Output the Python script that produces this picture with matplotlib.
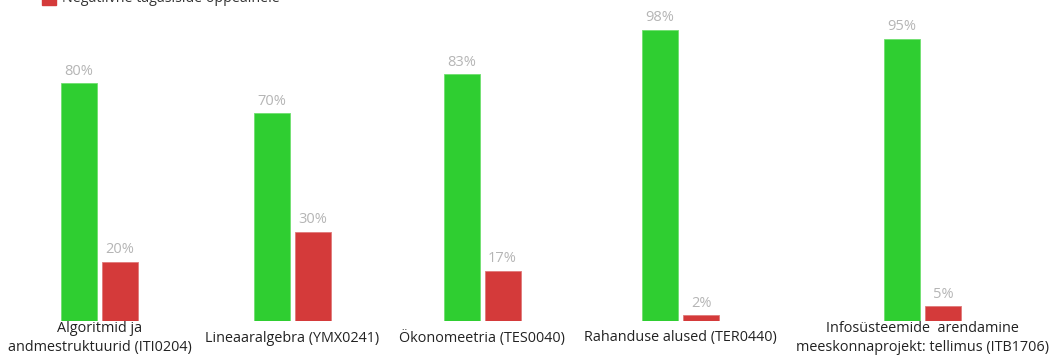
import matplotlib
matplotlib.use("Agg")
import matplotlib.pyplot as plt
from matplotlib.patches import Rectangle

plt.rcParams['font.family'] = ['Open Sans', 'DejaVu Sans']

courses = [
    "Algoritmid ja\nandmestruktuurid (ITI0204)",
    "Lineaaralgebra (YMX0241)",
    "Ökonomeetria (TES0040)",
    "Rahanduse alused (TER0440)",
    "Infosüsteemide  arendamine\nmeeskonnaprojekt: tellimus (ITB1706)",
]
positive = [80, 70, 83, 98, 95]
negative = [20, 30, 17, 2, 5]
series_names = ["Positiivne tagasiside õppeainele",
                "Negatiivne tagasiside õppeainele"]

GREEN = "#2fce31"
RED = "#d43a3a"
LABEL_GREY = "#b5b5b5"

# group centres in pixel units along the x axis
group_x = [99.5, 292, 482, 680.5, 922.5]
bar_w = 36
offset = 20.5

W, H = 1049, 359
fig = plt.figure(figsize=(W / 100, H / 100), dpi=100)
base_px = 38
ax = fig.add_axes([0, base_px / H, 1, 297 / H])
ax.set_xlim(0, W)
ax.set_ylim(0, 100)
ax.axis("off")

gx = [x - offset for x in group_x]
rx = [x + offset for x in group_x]
ax.bar(gx, positive, width=bar_w, color=GREEN, edgecolor="#6fe06f", linewidth=0.6)
ax.bar(rx, negative, width=bar_w, color=RED, edgecolor="#e07a7a", linewidth=0.6)

px_per_unit = 297 / 100
for x, v in list(zip(gx, positive)) + list(zip(rx, negative)):
    ax.text(x, v + 12 / px_per_unit, f"{v}%", ha="center", va="center",
            fontsize=10.5, color=LABEL_GREY)

for x, name in zip(group_x, courses):
    ax.text(x, -17 / px_per_unit, name, ha="center", va="center",
            fontsize=10.4, color="#222222", linespacing=1.45, clip_on=False)

# legend sits above the top edge, only the last row peeks in
for i, (name, col) in enumerate(zip(series_names, [GREEN, RED])):
    y_px = -2 - (1 - i) * 22
    yc = 1 - y_px / H
    fig.patches.append(Rectangle((42 / W, yc - 7 / H), 14 / W, 13 / H,
                                 transform=fig.transFigure, color=col))
    fig.text(62 / W, yc, name, ha="left", va="center", fontsize=10.3,
             color="#333333")

fig.savefig("out.png", dpi=100)
